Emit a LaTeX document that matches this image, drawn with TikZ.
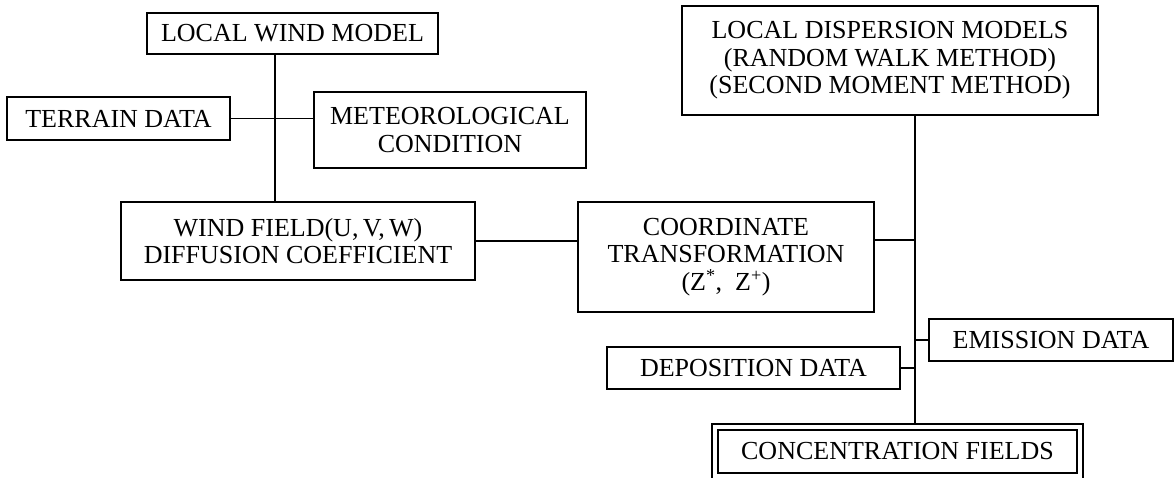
\documentclass[tikz,border=0pt]{standalone}
\usepackage{fontspec}
\setmainfont{Liberation Serif}
\begin{document}
\begin{tikzpicture}[x=1pt,y=-1pt,
  box/.style={draw,line width=1.3pt,inner sep=0pt,align=center,
    font=\fontsize{26}{27.5}\selectfont},
  conn/.style={line width=1.3pt}]
\useasboundingbox (0,0) rectangle (1176,478);
\node[box,minimum width=291,minimum height=41] (lwm) at (292.5,33.5) {LOCAL WIND MODEL};
\node[box,minimum width=223,minimum height=43] (terrain) at (118.5,118.5) {TERRAIN DATA};
\node[box,minimum width=272,minimum height=76] (met) at (450,130) {METEOROLOGICAL\\CONDITION};
\node[box,minimum width=354,minimum height=78] (wind) at (298,241) {WIND FIELD(U,\,V,\,W)\\DIFFUSION COEFFICIENT};
\node[box,minimum width=296,minimum height=110] (coord) at (726,257) {COORDINATE\\TRANSFORMATION\\(Z\textsuperscript{*},\ \ Z\textsuperscript{+})};
\node[box,minimum width=416,minimum height=109] (ldm) at (890,60.5) {LOCAL DISPERSION MODELS\\(RANDOM WALK METHOD)\\(SECOND MOMENT METHOD)};
\node[box,minimum width=244,minimum height=42] (emis) at (1051,340) {EMISSION DATA};
\node[box,minimum width=293,minimum height=42] (dep) at (753.5,368) {DEPOSITION DATA};
\node[box,minimum width=371,minimum height=64] (concout) at (897.5,456) {};
\node[box,minimum width=359,minimum height=43] (conc) at (897.5,451.5) {CONCENTRATION FIELDS};
\coordinate (j1) at (275,118);
\coordinate (j2) at (915,240);
\draw[conn] (lwm.south -| j1) -- (wind.north -| j1);
\draw[conn] (terrain.east) -- (terrain.east -| met.west);
\draw[conn] (wind.east) -- (wind.east -| coord.west);
\draw[conn] (coord.east |- j2) -- (j2);
\draw[conn] (ldm.south -| j2) -- (concout.north -| j2);
\draw[conn] (emis.west) -- (emis.west -| j2);
\draw[conn] (dep.east) -- (dep.east -| j2);
\end{tikzpicture}
\end{document}
